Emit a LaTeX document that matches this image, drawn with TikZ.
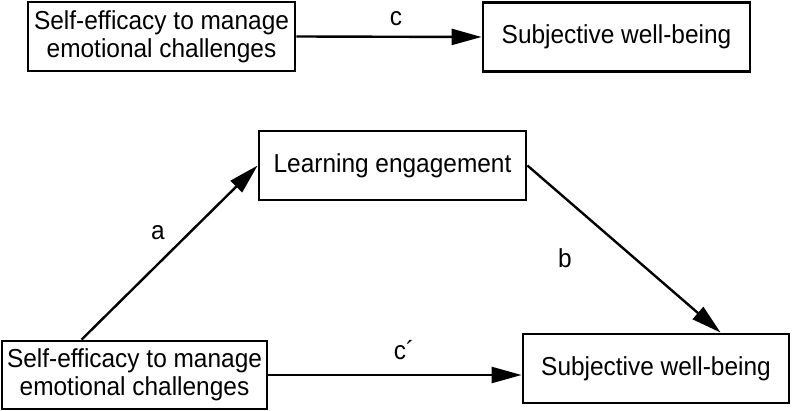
\documentclass[tikz,border=0pt]{standalone}
\usepackage{fontspec}
\setmainfont[FakeStretch=0.94]{Liberation Sans}
\usetikzlibrary{arrows.meta,positioning}
\begin{document}
\begin{tikzpicture}[x=1pt,y=-1pt,
  varbox/.style={draw,line width=2.8pt,minimum width=267pt,minimum height=69pt,inner sep=1pt,align=center,font=\fontsize{26}{28}\selectfont},
  lbl/.style={font=\fontsize{26}{28}\selectfont,inner sep=0pt},
  arr/.style={line width=2.4pt,-{Triangle[length=30pt,width=16pt]}}]
\useasboundingbox (0,0) rectangle (792,411);
\node[varbox] (x1) at (161.5,36.5) {Self-efficacy to manage\\emotional challenges};
\node[varbox] (y1) at (616.5,37) {Subjective well-being};
\node[varbox] (m) at (392.5,165.5) {Learning engagement};
\node[varbox,minimum width=265pt,minimum height=68pt] (x2) at (134.5,375) {Self-efficacy to manage\\emotional challenges};
\node[varbox,minimum width=266pt] (y2) at (656,368.5) {Subjective well-being};
\coordinate (astart) at ([xshift=81pt]x2.north west);
\coordinate (bend) at ([xshift=199pt]y2.north west);
\draw[arr] (x1.east) -- (y1.west);
\draw[arr] (astart) -- (m.west);
\draw[arr] (m.east) -- (bend);
\draw[arr] (x2.east) -- (x2.east -| y2.west);
\node[lbl] (lc) at (396,19) {c};
\node[lbl] (la) at (158,233) {a};
\node[lbl] (lb) at (565,258) {b};
\node[lbl] (lcp) at (404,350) {c´};
\end{tikzpicture}
\end{document}
